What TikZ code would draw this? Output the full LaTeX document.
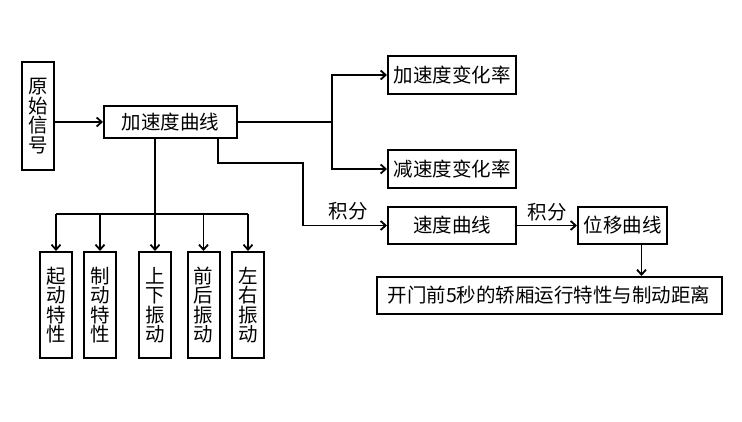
\documentclass[tikz,border=0pt]{standalone}
\usepackage{fontspec}
\newfontfamily\cjk{Noto Sans CJK SC}
\usetikzlibrary{arrows.meta,positioning,calc}

\begin{document}
\begin{tikzpicture}[
  x=1pt, y=-1pt,
  >={Straight Barb[length=5pt,width=9pt]},
  every node/.style={font=\cjk\fontsize{19.5}{19.5}\selectfont},
  box/.style={draw, line width=2pt, inner sep=0pt, align=center},
  vbox/.style={box, minimum width=32pt, minimum height=106pt},
  arrow/.style={->, line width=1.8pt},
  link/.style={line width=1.8pt},
  lab/.style={inner sep=1pt},
]
  \useasboundingbox (0,0) rectangle (742,422);

  \node[box, minimum width=32pt, minimum height=108pt] (sig) at (38, 116)
    {原\\始\\信\\号};
  \node[box, minimum width=133pt, minimum height=32pt] (acc) at (170.5, 122)
    {加速度曲线};
  \node[box, minimum width=128pt, minimum height=38pt] (accrate) at (452, 75)
    {加速度变化率};
  \node[box, minimum width=128pt, minimum height=38pt] (decrate) at (452, 169)
    {减速度变化率};
  \node[box, minimum width=128pt, minimum height=37pt] (vel) at (452, 225.5)
    {速度曲线};
  \node[box, minimum width=89pt, minimum height=37pt] (disp) at (622.5, 225.5)
    {位移曲线};
  \node[box, minimum width=345pt, minimum height=37pt] (result) at (549, 295.5)
    {开门前5秒的轿厢运行特性与制动距离};

  % vertical result boxes
  \foreach \n/\x/\t in {c1/56/{起\\动\\特\\性}, c2/100/{制\\动\\特\\性},
                        c3/155/{上\\下\\振\\动}, c4/203.5/{前\\后\\振\\动},
                        c5/248/{左\\右\\振\\动}}
    \node[vbox] (\n) at (\x, 305) {\t};

  \coordinate (fork) at (332, 122);
  \coordinate (bend) at (303, 163);
  \coordinate (bus) at (155, 214);

  \draw[arrow] (sig.east |- acc) -- (acc.west);
  \draw[link] (acc.east) -- (fork);
  \draw[arrow] (fork) |- (accrate.west);
  \draw[arrow] (fork) |- (decrate.west);

  \draw[arrow] ([xshift=47.5pt]acc.south) |- (bend) |- (vel.west);
  \node[lab] (int1) at (348, 211) {积分};
  \draw[arrow] (vel) -- (disp) node[midway, above, lab, yshift=2pt] {积分};
  \draw[arrow] (disp.south -| 641.5,0) -- (result.north -| 641.5,0);

  % fan out to the five boxes
  \draw[link] (acc.south -| bus) -- (bus);
  \draw[link] (c1.north |- bus) -- (c5.north |- bus);
  \foreach \n in {c1,c2,c3,c4,c5}
    \draw[arrow] (\n.north |- bus) -- (\n.north);
\end{tikzpicture}
\end{document}
